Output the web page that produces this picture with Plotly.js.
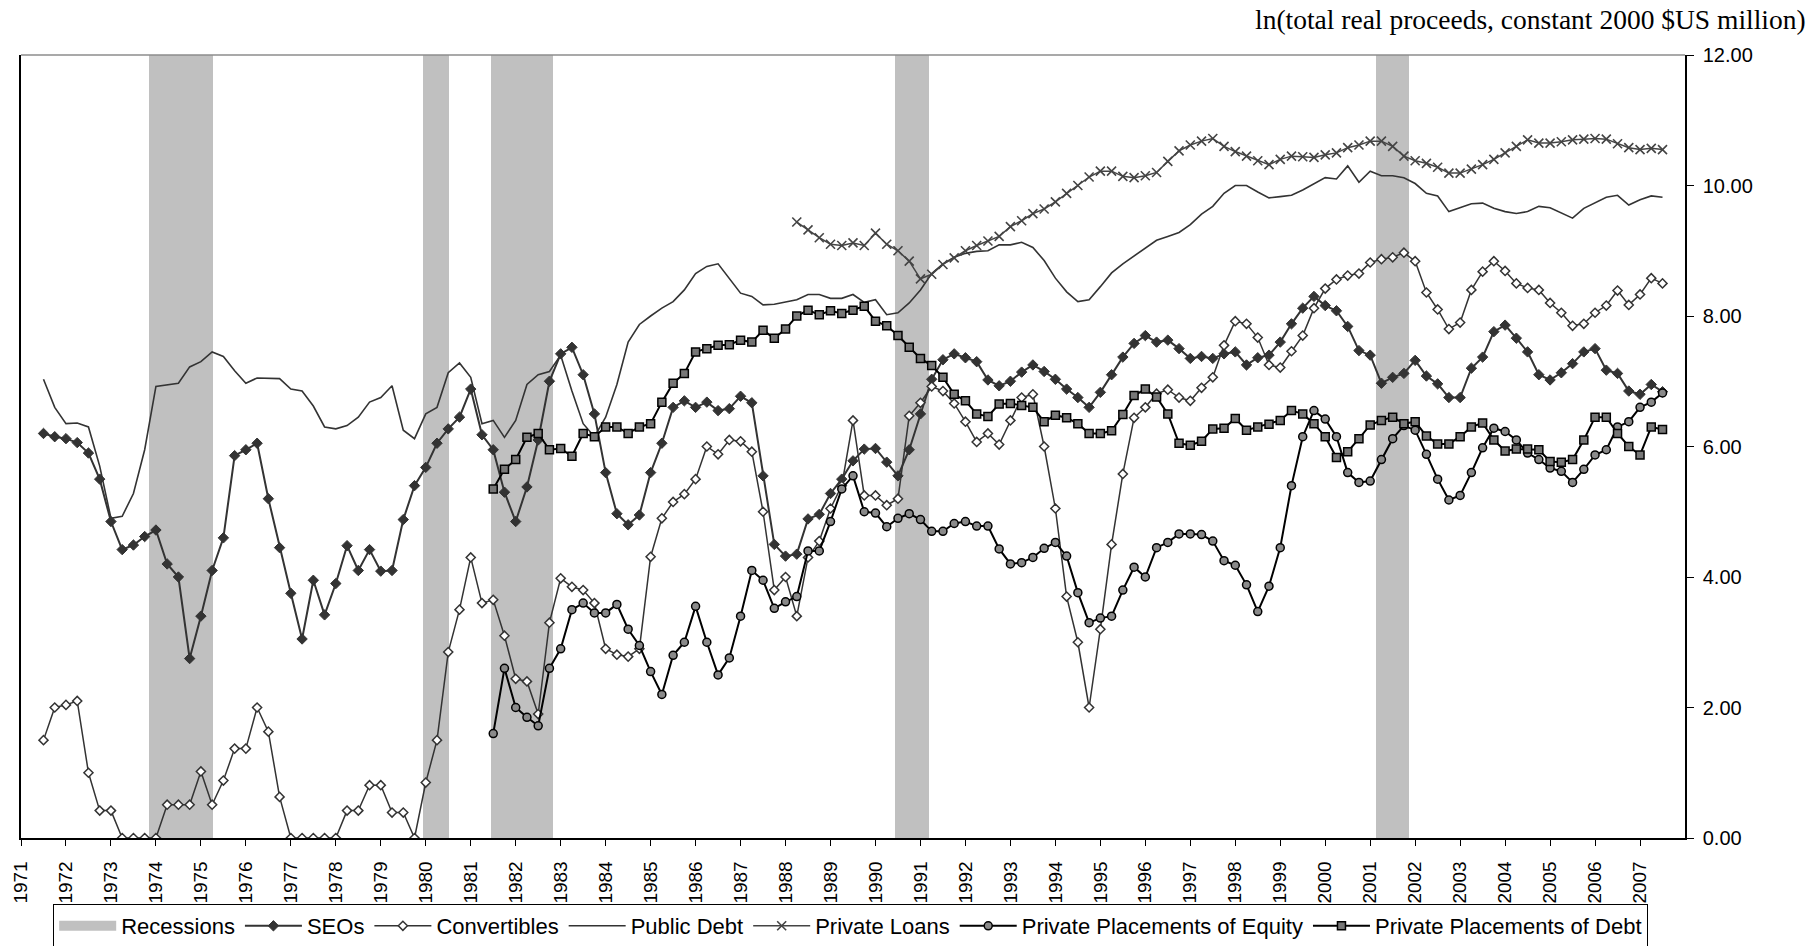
<!DOCTYPE html>
<html>
<head>
<meta charset="utf-8">
<script src="https://cdn.plot.ly/plotly-3.0.1.min.js"></script>
<style>
html,body{margin:0;padding:0;background:#ffffff;}
#chart{width:1810px;height:946px;}
</style>
</head>
<body>
<div id="chart"></div>
<script>
// ---------- DATA (quarterly readings: value at Y.00, Y.25, Y.50, Y.75) ----------
const yearTicks = [1971,1972,1973,1974,1975,1976,1977,1978,1979,1980,1981,1982,1983,1984,1985,1986,1987,1988,1989,1990,1991,1992,1993,1994,1995,1996,1997,1998,1999,2000,2001,2002,2003,2004,2005,2006,2007];
const yTickVals = [0,2,4,6,8,10,12];

const recessionStart = [1973.84, 1979.93, 1981.44, 1990.43, 2001.12];
const recessionEnd   = [1975.27, 1980.51, 1982.84, 1991.18, 2001.86];

const seoStartYear = 1971;
const seoValues = [
 [null,null,6.2,6.15],      // 1971
 [6.12,6.06,5.9,5.5],       // 1972
 [4.85,4.42,4.49,4.62],     // 1973
 [4.72,4.2,4.0,2.75],       // 1974
 [3.4,4.1,4.6,5.86],        // 1975
 [5.95,6.05,5.2,4.45],      // 1976
 [3.75,3.05,3.95,3.42],     // 1977
 [3.9,4.48,4.1,4.42],       // 1978
 [4.09,4.1,4.88,5.4],       // 1979
 [5.68,6.05,6.27,6.45],     // 1980
 [6.88,6.18,5.95,5.3],      // 1981
 [4.85,5.38,6.1,7.0],       // 1982
 [7.42,7.52,7.1,6.5],       // 1983
 [5.6,4.97,4.8,4.95],       // 1984
 [5.6,6.05,6.6,6.7],        // 1985
 [6.6,6.68,6.55,6.58],      // 1986
 [6.77,6.67,5.55,4.5],      // 1987
 [4.32,4.35,4.89,4.96],     // 1988
 [5.28,5.5,5.78,5.96],      // 1989
 [5.97,5.76,5.55,5.95],     // 1990
 [6.5,7.03,7.33,7.42],      // 1991
 [7.36,7.3,7.02,6.93],      // 1992
 [7.0,7.14,7.25,7.15],      // 1993
 [7.03,6.88,6.75,6.6],      // 1994
 [6.83,7.1,7.37,7.58],      // 1995
 [7.7,7.6,7.63,7.5],        // 1996
 [7.35,7.38,7.35,7.42],     // 1997
 [7.45,7.25,7.36,7.4],      // 1998
 [7.6,7.88,8.12,8.3],       // 1999
 [8.16,8.08,7.84,7.47],     // 2000
 [7.4,6.97,7.06,7.12],      // 2001
 [7.32,7.08,6.96,6.75],     // 2002
 [6.75,7.2,7.37,7.76],      // 2003
 [7.86,7.66,7.45,7.1],      // 2004
 [7.02,7.13,7.27,7.45],     // 2005
 [7.5,7.17,7.12,6.85],      // 2006
 [6.8,6.95,6.84]            // 2007
];

const convStartYear = 1971;
const convValues = [
 [null,null,1.5,2.0],       // 1971
 [2.04,2.1,1.0,0.42],       // 1972
 [0.42,0,0,0],              // 1973
 [0,0.51,0.51,0.51],        // 1974
 [1.02,0.51,0.88,1.37],     // 1975
 [1.37,2.0,1.63,0.63],      // 1976
 [0,0,0,0],                 // 1977
 [0,0.42,0.42,0.81],        // 1978
 [0.81,0.39,0.39,0],        // 1979
 [0.85,1.5,2.85,3.5],       // 1980
 [4.3,3.6,3.65,3.1],        // 1981
 [2.44,2.4,1.9,3.3],        // 1982
 [3.98,3.85,3.8,3.6],       // 1983
 [2.9,2.81,2.78,2.9],       // 1984
 [4.31,4.9,5.15,5.27],      // 1985
 [5.5,6.0,5.88,6.1],        // 1986
 [6.08,5.92,5.0,3.8],       // 1987
 [4.0,3.4,4.3,4.55],        // 1988
 [5.05,5.4,6.4,5.25],       // 1989
 [5.25,5.1,5.2,6.47],       // 1990
 [6.67,6.92,6.85,6.66],     // 1991
 [6.38,6.07,6.2,6.03],      // 1992
 [6.4,6.75,6.8,6.0],        // 1993
 [5.05,3.7,3.0,2.0],        // 1994
 [3.2,4.5,5.58,6.44],       // 1995
 [6.6,6.81,6.87,6.75],      // 1996
 [6.7,6.9,7.06,7.55],       // 1997
 [7.92,7.88,7.67,7.25],     // 1998
 [7.21,7.46,7.7,8.12],      // 1999
 [8.42,8.56,8.62,8.65],     // 2000
 [8.82,8.87,8.9,8.97],      // 2001
 [8.84,8.36,8.1,7.8],       // 2002
 [7.9,8.4,8.68,8.84],       // 2003
 [8.69,8.5,8.43,8.4],       // 2004
 [8.2,8.05,7.85,7.88],      // 2005
 [8.05,8.16,8.39,8.17],     // 2006
 [8.33,8.58,8.5]            // 2007
];

const pubDebtStartYear = 1971;
const pubDebtValues = [
 [null,null,7.03,6.6],      // 1971
 [6.35,6.36,6.3,5.7],       // 1972
 [4.9,4.93,5.28,5.95],      // 1973
 [6.92,6.95,6.97,7.22],     // 1974
 [7.3,7.45,7.38,7.16],      // 1975
 [6.97,7.05,7.04,7.04],     // 1976
 [6.88,6.85,6.62,6.3],      // 1977
 [6.27,6.32,6.45,6.68],     // 1978
 [6.75,6.93,6.25,6.12],     // 1979
 [6.5,6.6,7.13,7.28],       // 1980
 [7.06,6.35,6.4,6.14],      // 1981
 [6.4,6.95,7.1,7.15],       // 1982
 [7.4,6.85,6.35,6.15],      // 1983
 [6.45,6.95,7.6,7.87],      // 1984
 [8.0,8.12,8.22,8.4],       // 1985
 [8.65,8.76,8.8,8.57],      // 1986
 [8.35,8.3,8.17,8.18],      // 1987
 [8.21,8.25,8.33,8.33],     // 1988
 [8.27,8.27,8.33,8.21],     // 1989
 [8.25,8.02,8.05,8.2],      // 1990
 [8.4,8.65,8.8,8.9],        // 1991
 [8.96,8.99,9.0,9.09],      // 1992
 [9.09,9.13,9.05,8.85],     // 1993
 [8.58,8.37,8.22,8.25],     // 1994
 [8.45,8.66,8.8,8.92],      // 1995
 [9.05,9.16,9.22,9.28],     // 1996
 [9.4,9.56,9.68,9.88],      // 1997
 [10.0,10.0,9.9,9.81],      // 1998
 [9.83,9.85,9.93,10.03],    // 1999
 [10.12,10.1,10.3,10.05],   // 2000
 [10.22,10.15,10.15,10.12], // 2001
 [10.03,9.88,9.84,9.6],     // 2002
 [9.66,9.72,9.73,9.65],     // 2003
 [9.6,9.57,9.6,9.68],       // 2004
 [9.66,9.58,9.5,9.65],      // 2005
 [9.74,9.82,9.85,9.7],      // 2006
 [9.78,9.84,9.82]           // 2007
];

const privLoanStartYear = 1988;
const privLoanValues = [
 [null,9.44,9.32,9.2],      // 1988
 [9.1,9.08,9.12,9.08],      // 1989
 [9.27,9.1,9.0,8.84],       // 1990
 [8.57,8.64,8.79,8.89],     // 1991
 [9.0,9.08,9.15,9.22],      // 1992
 [9.37,9.46,9.57,9.64],     // 1993
 [9.75,9.88,10.0,10.13],    // 1994
 [10.22,10.22,10.14,10.12], // 1995
 [10.15,10.2,10.37,10.53],  // 1996
 [10.62,10.68,10.72,10.6],  // 1997
 [10.52,10.45,10.38,10.32], // 1998
 [10.4,10.45,10.44,10.43],  // 1999
 [10.47,10.5,10.58,10.62],  // 2000
 [10.68,10.68,10.6,10.45],  // 2001
 [10.38,10.34,10.28,10.19], // 2002
 [10.19,10.25,10.32,10.4],  // 2003
 [10.5,10.6,10.7,10.65],    // 2004
 [10.65,10.67,10.7,10.71],  // 2005
 [10.72,10.71,10.64,10.58], // 2006
 [10.55,10.57,10.55]        // 2007
];

const ppeStartYear = 1981;
const ppeValues = [
 [null,null,1.6,2.6],       // 1981
 [2.0,1.85,1.72,2.6],       // 1982
 [2.9,3.5,3.6,3.45],        // 1983
 [3.45,3.58,3.2,2.95],      // 1984
 [2.55,2.2,2.8,3.0],        // 1985
 [3.55,3.0,2.5,2.76],       // 1986
 [3.4,4.1,3.95,3.52],       // 1987
 [3.62,3.7,4.4,4.4],        // 1988
 [4.85,5.35,5.55,5.0],      // 1989
 [4.98,4.77,4.9,4.97],      // 1990
 [4.88,4.7,4.7,4.82],       // 1991
 [4.85,4.78,4.78,4.43],     // 1992
 [4.2,4.22,4.3,4.44],       // 1993
 [4.53,4.32,3.76,3.3],      // 1994
 [3.37,3.4,3.8,4.15],       // 1995
 [4.0,4.45,4.53,4.66],      // 1996
 [4.66,4.65,4.55,4.25],     // 1997
 [4.18,3.88,3.47,3.86],     // 1998
 [4.45,5.4,6.15,6.55],      // 1999
 [6.42,6.15,5.6,5.45],      // 2000
 [5.47,5.8,6.12,6.32],      // 2001
 [6.25,5.88,5.5,5.18],      // 2002
 [5.25,5.6,5.98,6.28],      // 2003
 [6.23,6.1,5.9,5.8],        // 2004
 [5.67,5.62,5.45,5.65],     // 2005
 [5.87,5.95,6.3,6.38],      // 2006
 [6.6,6.68,6.82]            // 2007
];

const ppdStartYear = 1981;
const ppdValues = [
 [null,null,5.35,5.65],     // 1981
 [5.8,6.14,6.2,5.95],       // 1982
 [5.97,5.85,6.2,6.15],      // 1983
 [6.3,6.3,6.2,6.3],         // 1984
 [6.35,6.68,6.97,7.12],     // 1985
 [7.45,7.5,7.55,7.56],      // 1986
 [7.63,7.6,7.78,7.66],      // 1987
 [7.8,8.0,8.09,8.02],       // 1988
 [8.08,8.04,8.09,8.15],     // 1989
 [7.92,7.85,7.7,7.52],      // 1990
 [7.35,7.24,7.06,6.8],      // 1991
 [6.7,6.5,6.46,6.65],       // 1992
 [6.66,6.63,6.6,6.38],      // 1993
 [6.48,6.44,6.35,6.2],      // 1994
 [6.2,6.24,6.49,6.78],      // 1995
 [6.88,6.76,6.5,6.05],      // 1996
 [6.02,6.08,6.27,6.28],     // 1997
 [6.43,6.25,6.3,6.34],      // 1998
 [6.4,6.55,6.5,6.35],       // 1999
 [6.15,5.83,5.92,6.12],     // 2000
 [6.33,6.4,6.45,6.35],      // 2001
 [6.38,6.16,6.04,6.04],     // 2002
 [6.15,6.3,6.36,6.1],       // 2003
 [5.93,5.96,5.96,5.95],     // 2004
 [5.77,5.76,5.8,6.1],       // 2005
 [6.45,6.45,6.2,6.0],       // 2006
 [5.87,6.3,6.26]            // 2007
];

// ---------- helpers ----------
function quarterly(startYear, rows) {
  const xs = [], ys = [];
  rows.forEach((row, i) => {
    row.forEach((v, q) => {
      if (v !== null && v !== undefined) { xs.push(startYear + i + q * 0.25); ys.push(v); }
    });
  });
  return {x: xs, y: ys};
}

const FONT = 'Liberation Sans, Arial, sans-serif';
const seo = quarterly(seoStartYear, seoValues);
const conv = quarterly(convStartYear, convValues);
const pub = quarterly(pubDebtStartYear, pubDebtValues);
const loans = quarterly(privLoanStartYear, privLoanValues);
const ppe = quarterly(ppeStartYear, ppeValues);
const ppd = quarterly(ppdStartYear, ppdValues);

const recX = recessionStart.map((s, i) => (s + recessionEnd[i]) / 2);
const recW = recessionStart.map((s, i) => recessionEnd[i] - s);
const recY = recessionStart.map(() => yTickVals[yTickVals.length - 1]);

const traces = [
  // recession shading (legend entry supplied by the next, legend-only trace)
  {type: 'bar', name: 'Recessions', x: recX, y: recY, width: recW, base: 0, showlegend: false,
   legendgroup: 'rec', marker: {color: '#c0c0c0', line: {width: 0}}, hoverinfo: 'skip'},
  {type: 'scatter', mode: 'lines', name: 'Recessions', x: [recX[0]], y: [null], legendgroup: 'rec',
   line: {color: '#c0c0c0', width: 13}, hoverinfo: 'skip'},
  {type: 'scatter', mode: 'lines+markers', name: 'SEOs', x: seo.x, y: seo.y,
   line: {color: '#333333', width: 2},
   marker: {symbol: 'diamond', size: 8, color: '#333333', line: {color: '#333333', width: 1}}},
  {type: 'scatter', mode: 'lines+markers', name: 'Convertibles', x: conv.x, y: conv.y,
   line: {color: '#333333', width: 1.5},
   marker: {symbol: 'diamond', size: 7, color: '#ffffff', line: {color: '#333333', width: 1.5}}},
  {type: 'scatter', mode: 'lines', name: 'Public Debt', x: pub.x, y: pub.y,
   line: {color: '#333333', width: 1.6}},
  {type: 'scatter', mode: 'lines+markers', name: 'Private Loans', x: loans.x, y: loans.y,
   line: {color: '#444444', width: 1.5},
   marker: {symbol: 'x-thin', size: 9, color: '#444444', line: {color: '#444444', width: 1.6}}},
  {type: 'scatter', mode: 'lines+markers', name: 'Private Placements of Equity', x: ppe.x, y: ppe.y,
   line: {color: '#000000', width: 2},
   marker: {symbol: 'circle', size: 8, color: '#8a8a8a', line: {color: '#000000', width: 1.5}}},
  {type: 'scatter', mode: 'lines+markers', name: 'Private Placements of Debt', x: ppd.x, y: ppd.y,
   line: {color: '#000000', width: 2},
   marker: {symbol: 'square', size: 8, color: '#777777', line: {color: '#000000', width: 1.5}}}
];

const layout = {
  width: 1810, height: 946,
  paper_bgcolor: '#ffffff', plot_bgcolor: '#ffffff',
  margin: {l: 21, r: 125, t: 55, b: 108, pad: 0},
  font: {family: FONT, color: '#000000'},
  showlegend: true,
  bargap: 0,
  xaxis: {
    type: 'linear', range: [1971, 2008], showgrid: false, zeroline: false,
    tickmode: 'array', tickvals: yearTicks, ticktext: yearTicks.map(String),
    tickangle: -90, ticks: 'outside', ticklen: 6, tickwidth: 1, tickcolor: '#000000',
    tickfont: {family: FONT, size: 19, color: '#000000'},
    ticklabelstandoff: 8,
    showline: true, linecolor: '#000000', linewidth: 1.5, mirror: false
  },
  yaxis: {
    side: 'right', range: [0, 12], showgrid: false, zeroline: false, automargin: false,
    tickmode: 'array', tickvals: yTickVals, tickformat: '.2f',
    ticks: 'outside', ticklen: 7, tickwidth: 1, tickcolor: '#000000',
    tickfont: {family: FONT, size: 20, color: '#000000'},
    ticklabelstandoff: 5,
    showline: true, linecolor: '#000000', linewidth: 1.5, mirror: true
  },
  shapes: [
    {type: 'line', xref: 'paper', yref: 'paper', x0: 0, x1: 1, y0: 1, y1: 1,
     line: {color: '#8c8c8c', width: 1.5}}
  ],
  annotations: [
    {xref: 'paper', yref: 'paper', x: 1.0739, y: 1.0447, xanchor: 'right', yanchor: 'middle',
     showarrow: false, text: 'ln(total real proceeds, constant 2000 $US million)',
     font: {family: 'Liberation Serif, Times New Roman, serif', size: 27.5, color: '#000000'}}
  ],
  legend: {
    orientation: 'h', x: 0.470, xanchor: 'center', xref: 'container',
    y: 0.0444, yanchor: 'top', yref: 'container',
    bordercolor: '#000000', borderwidth: 1, bgcolor: '#ffffff',
    font: {family: FONT, size: 22, color: '#000000'},
    traceorder: 'normal', itemwidth: 57
  }
};

Plotly.newPlot('chart', traces, layout, {displayModeBar: false, responsive: false});
</script>
</body>
</html>
